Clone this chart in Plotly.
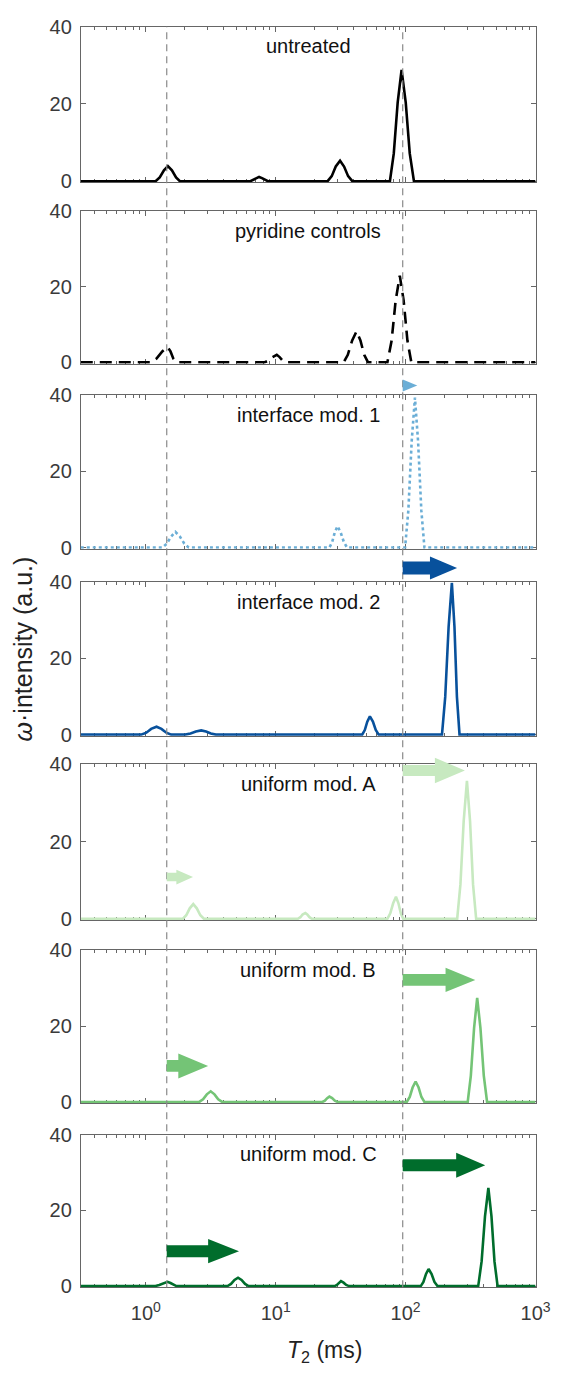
import math
import plotly.graph_objects as go

# ---------------- data (T2 in ms, intensity in a.u.) ----------------
panel_names = ["untreated", "pyridine controls", "interface mod. 1", "interface mod. 2",
               "uniform mod. A", "uniform mod. B", "uniform mod. C"]

t_untreated = [0.316, 1.19, 1.28, 1.38, 1.48, 1.59, 1.71, 1.83,
               6.38, 6.71, 7.08, 7.45, 7.85, 8.26, 8.71,
               25.1, 27.0, 29.0, 31.3, 33.6, 36.1, 38.9,
               75.7, 81.1, 86.9, 93.1, 100.2, 107.6, 115.9, 1000]
v_untreated = [0, 0, 1.0, 2.8, 3.9, 2.8, 1.0, 0,
               0, 0.3, 0.8, 1.1, 0.8, 0.3, 0,
               0, 1.3, 3.8, 5.3, 3.8, 1.3, 0,
               0, 7.2, 20.4, 28.8, 20.4, 7.2, 0, 0]

t_pyridine = [0.316, 1.10, 1.21, 1.34, 1.47, 1.55, 1.63, 1.72,
              8.18, 8.81, 9.46, 10.19, 10.72, 11.30, 11.89,
              33.3, 35.9, 38.8, 41.9, 44.9, 48.0, 51.4,
              72.4, 78.0, 83.8, 90.2, 96.6, 103.3, 110.7, 1000]
v_pyridine = [0, 0, 1.0, 2.9, 4.1, 2.9, 1.0, 0,
              0, 0.5, 1.4, 2.0, 1.4, 0.5, 0,
              0, 2.0, 5.8, 8.2, 5.8, 2.0, 0,
              0, 5.7, 16.3, 22.9, 16.3, 5.7, 0, 0]

t_if1 = [0.316, 1.34, 1.45, 1.57, 1.69, 1.83, 1.98, 2.14,
         25.9, 27.2, 28.5, 29.9, 31.6, 33.5, 35.4,
         99.1, 105.0, 111.4, 118.0, 124.7, 132.1, 139.6, 1000]
v_if1 = [0, 0, 1.0, 2.9, 4.1, 2.9, 1.0, 0,
         0, 1.4, 4.0, 5.6, 4.0, 1.4, 0,
         0, 9.8, 27.9, 39.3, 27.9, 9.8, 0, 0]

t_if2 = [0.316, 0.92, 1.01, 1.10, 1.21, 1.32, 1.44, 1.57,
         2.01, 2.21, 2.43, 2.67, 2.91, 3.17, 3.46,
         46.3, 48.5, 50.7, 53.1, 56.0, 58.9, 62.1,
         190.5, 201.8, 214.3, 227.0, 237.7, 248.3, 260.0, 1000]
v_if2 = [0, 0, 0.5, 1.5, 2.06, 1.5, 0.5, 0,
         0, 0.3, 0.8, 1.1, 0.8, 0.3, 0,
         0, 1.2, 3.4, 4.8, 3.4, 1.2, 0,
         0, 9.9, 28.3, 39.8, 28.3, 9.9, 0, 0]

t_uniA = [0.316, 1.93, 2.05, 2.18, 2.32, 2.47, 2.63, 2.80,
          14.8, 15.5, 16.1, 16.9, 17.5, 18.2, 19.0,
          72.4, 76.2, 80.2, 84.3, 88.1, 91.8, 95.9,
          249.5, 264.2, 279.9, 296.5, 313.3, 330.4, 349.1, 1000]
v_uniA = [0, 0, 0.9, 2.7, 3.8, 2.7, 0.9, 0,
          0, 0.4, 1.1, 1.5, 1.1, 0.4, 0,
          0, 1.4, 4.0, 5.7, 4.0, 1.4, 0,
          0, 8.9, 25.3, 35.7, 25.3, 8.9, 0, 0]

t_uniB = [0.316, 2.58, 2.76, 2.95, 3.16, 3.38, 3.61, 3.87,
          22.9, 23.9, 24.9, 25.9, 27.2, 28.5, 29.9,
          102.1, 107.6, 113.2, 119.4, 125.9, 132.4, 139.6,
          300.6, 317.7, 336.5, 355.6, 376.7, 399.9, 423.6, 1000]
v_uniB = [0, 0, 0.7, 2.0, 2.8, 2.0, 0.7, 0,
          0, 0.35, 1.0, 1.4, 1.0, 0.35, 0,
          0, 1.3, 3.8, 5.4, 3.8, 1.3, 0,
          0, 6.9, 19.5, 27.5, 19.5, 6.9, 0, 0]

t_uniC = [0.316, 1.19, 1.27, 1.37, 1.47, 1.55, 1.63, 1.72,
          4.26, 4.53, 4.82, 5.13, 5.46, 5.81, 6.18,
          28.5, 29.6, 30.7, 31.8, 33.3, 34.9, 36.6,
          130.9, 137.1, 143.6, 150.3, 158.5, 166.7, 175.8,
          362.2, 384.6, 408.3, 433.5, 458.1, 483.1, 510.5, 1000]
v_uniC = [0, 0, 0.3, 0.8, 1.1, 0.8, 0.3, 0,
          0, 0.55, 1.6, 2.2, 1.6, 0.55, 0,
          0, 0.3, 0.9, 1.3, 0.9, 0.3, 0,
          0, 1.1, 3.2, 4.5, 3.2, 1.1, 0,
          0, 6.5, 18.4, 25.9, 18.4, 6.5, 0, 0]

series_t = [t_untreated, t_pyridine, t_if1, t_if2, t_uniA, t_uniB, t_uniC]
series_v = [v_untreated, v_pyridine, v_if1, v_if2, v_uniA, v_uniB, v_uniC]

colors = ["#000000", "#000000", "#6baed6", "#08519c", "#c7e9c0", "#74c476", "#006d2c"]
dashes = ["solid", "12px,7px", "3px,3px", "solid", "solid", "solid", "solid"]

ref_lines_T = [1.45, 95]          # vertical dashed reference lines (ms)

x_tickvals = [1, 10, 100, 1000]
x_ticktext = ["10<sup>0</sup>", "10<sup>1</sup>", "10<sup>2</sup>", "10<sup>3</sup>"]
y_tickvals = [0, 20, 40]

# arrows: panel, T start, T head start, T tip, y centre, shaft half, head half (intensity units)
arrow_panel = [2, 3, 4, 4, 5, 5, 6, 6]
arrow_t0 = [95, 95, 95, 1.45, 95, 1.45, 95, 1.45]
arrow_th = [95, 154, 168, 1.72, 203, 1.78, 245, 3.02]
arrow_t1 = [123, 249, 286, 2.31, 344, 3.02, 410, 5.22]
arrow_y = [42.5, 43.7, 38.4, 10.8, 32.2, 9.5, 31.9, 9.2]
arrow_shaft = [0, 1.7, 1.4, 1.1, 1.55, 1.55, 1.6, 1.6]
arrow_head = [1.6, 3.0, 3.3, 1.9, 3.2, 3.3, 3.3, 3.2]
arrow_color = ["#6baed6", "#08519c", "#c7e9c0", "#c7e9c0", "#74c476", "#74c476", "#006d2c", "#006d2c"]

# ---------------- layout geometry ----------------
W, H = 570, 1375
XL, XR = 83, 550
tops = [16, 203, 390, 580, 765, 954, 1141]
bots = [174, 358, 546, 736, 923, 1109, 1296]
XMIN, XMAX = -0.5, 3.0
YMIN, YMAX = -0.3, 40.0

FONT = "Arial, Liberation Sans, Helvetica, sans-serif"
AXC = "#666666"

fig = go.Figure()
layout = dict(width=W, height=H, margin=dict(l=0, r=0, t=0, b=0),
              paper_bgcolor="white", plot_bgcolor="white", showlegend=False,
              font=dict(family=FONT, color="#333"))

for i in range(7):
    k = "" if i == 0 else str(i + 1)
    fig.add_trace(go.Scatter(x=series_t[i], y=series_v[i], mode="lines",
                             line=dict(color=colors[i], width=2.6, dash=dashes[i]),
                             xaxis="x" + k, yaxis="y" + k, hoverinfo="skip"))
    last = (i == 6)
    layout["xaxis" + k] = dict(
        type="log", range=[XMIN, XMAX], domain=[XL / W, XR / W], anchor="y" + k,
        showgrid=False, zeroline=False, showline=True, linecolor=AXC, linewidth=1,
        mirror="allticks", ticks="inside", ticklen=5, tickcolor=AXC,
        tickmode="array", tickvals=x_tickvals, ticktext=x_ticktext,
        showticklabels=last, tickfont=dict(size=20, color="#3a3a3a"),
        ticklabelstandoff=8,
        minor=dict(ticks="inside", ticklen=3, tickcolor=AXC, dtick="D1", showgrid=False),
        layer="below traces")
    layout["yaxis" + k] = dict(
        range=[YMIN, YMAX], domain=[1 - bots[i] / H, 1 - tops[i] / H], anchor="x" + k,
        showgrid=False, zeroline=False, showline=True, linecolor=AXC, linewidth=1,
        mirror="allticks", ticks="inside", ticklen=5, tickcolor=AXC,
        tickmode="array", tickvals=y_tickvals, tickfont=dict(size=20, color="#3a3a3a"),
        ticklabelstandoff=4,
        layer="below traces")

fig.update_layout(**layout)


def px_x(T):
    return (XL + (math.log10(T) - XMIN) / (XMAX - XMIN) * (XR - XL)) / W


def px_y(panel, v):
    b = 1 - bots[panel] / H
    t = 1 - tops[panel] / H
    return b + (v - YMIN) / (YMAX - YMIN) * (t - b)


shapes = []
# vertical dashed reference lines
for T in ref_lines_T:
    x = px_x(T)
    shapes.append(dict(type="line", xref="paper", yref="paper", x0=x, x1=x,
                       y0=1 - bots[6] / H, y1=1 - tops[0] / H,
                       line=dict(color="#8a8a8a", width=1.2, dash="7px,5px"), layer="above"))

# block arrows
for j in range(len(arrow_panel)):
    p = arrow_panel[j]
    xa, xh, xt = px_x(arrow_t0[j]), px_x(arrow_th[j]), px_x(arrow_t1[j])
    yc = px_y(p, arrow_y[j])
    ys_t, ys_b = px_y(p, arrow_y[j] + arrow_shaft[j]), px_y(p, arrow_y[j] - arrow_shaft[j])
    yh_t, yh_b = px_y(p, arrow_y[j] + arrow_head[j]), px_y(p, arrow_y[j] - arrow_head[j])
    if arrow_shaft[j] > 0:
        path = (f"M{xa},{ys_b} L{xh},{ys_b} L{xh},{yh_b} L{xt},{yc} "
                f"L{xh},{yh_t} L{xh},{ys_t} L{xa},{ys_t} Z")
    else:
        path = f"M{xh},{yh_b} L{xt},{yc} L{xh},{yh_t} Z"
    shapes.append(dict(type="path", xref="paper", yref="paper", path=path,
                       fillcolor=arrow_color[j], line=dict(width=0), layer="above"))

fig.update_layout(shapes=shapes)

ann = []
for i in range(7):
    ann.append(dict(text=panel_names[i], xref="paper", yref="paper",
                    x=(XL + XR) / 2 / W, y=1 - (tops[i] + 20) / H,
                    xanchor="center", yanchor="middle", showarrow=False,
                    font=dict(size=20, color="#111", family=FONT)))
ann.append(dict(text="<i>ω</i>·intensity (a.u.)", xref="paper", yref="paper",
                x=24 / W, y=1 - 648 / H, textangle=-90, xanchor="center", yanchor="middle",
                showarrow=False, font=dict(size=25, color="#222", family=FONT)))
ann.append(dict(text="<i>T</i><sub>2</sub> (ms)", xref="paper", yref="paper",
                x=333 / W, y=1 - 1361 / H, xanchor="center", yanchor="middle",
                showarrow=False, font=dict(size=23, color="#222", family=FONT)))
fig.update_layout(annotations=ann)

fig.write_html("out.html")
